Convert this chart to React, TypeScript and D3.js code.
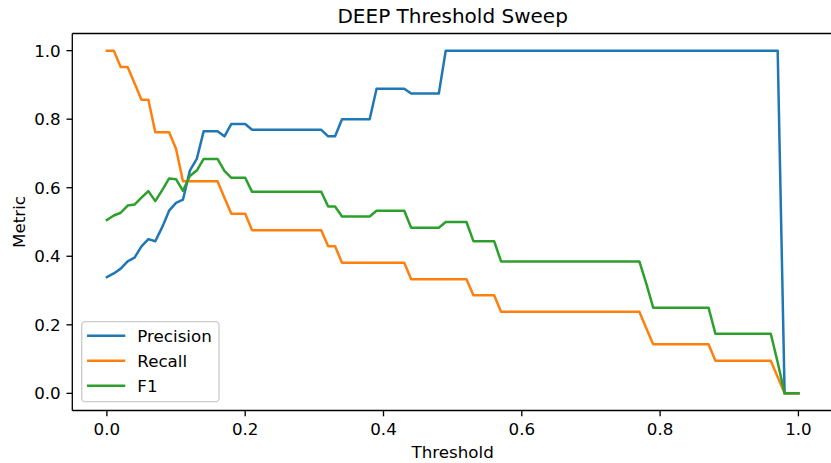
import React from "react";
import * as d3 from "d3";

// Decision thresholds swept from 0 to 1
const thresholds = [
  0.0, 0.01, 0.02, 0.03, 0.04, 0.05, 0.06, 0.07, 0.08, 0.09,
  0.1, 0.11, 0.12, 0.13, 0.14, 0.15, 0.16, 0.17, 0.18, 0.19,
  0.2, 0.21, 0.22, 0.23, 0.24, 0.25, 0.26, 0.27, 0.28, 0.29,
  0.3, 0.31, 0.32, 0.33, 0.34, 0.35, 0.36, 0.37, 0.38, 0.39,
  0.4, 0.41, 0.42, 0.43, 0.44, 0.45, 0.46, 0.47, 0.48, 0.49,
  0.5, 0.51, 0.52, 0.53, 0.54, 0.55, 0.56, 0.57, 0.58, 0.59,
  0.6, 0.61, 0.62, 0.63, 0.64, 0.65, 0.66, 0.67, 0.68, 0.69,
  0.7, 0.71, 0.72, 0.73, 0.74, 0.75, 0.76, 0.77, 0.78, 0.79,
  0.8, 0.81, 0.82, 0.83, 0.84, 0.85, 0.86, 0.87, 0.88, 0.89,
  0.9, 0.91, 0.92, 0.93, 0.94, 0.95, 0.96, 0.97, 0.98, 0.99,
  1.0,
];

const precision = [
  0.339, 0.35, 0.364, 0.385, 0.396, 0.429, 0.45, 0.444, 0.485, 0.533,
  0.556, 0.565, 0.65, 0.684, 0.765, 0.765, 0.765, 0.75, 0.786, 0.786,
  0.786, 0.769, 0.769, 0.769, 0.769, 0.769, 0.769, 0.769, 0.769, 0.769,
  0.769, 0.769, 0.75, 0.75, 0.8, 0.8, 0.8, 0.8, 0.8, 0.889,
  0.889, 0.889, 0.889, 0.889, 0.875, 0.875, 0.875, 0.875, 0.875, 1.0,
  1.0, 1.0, 1.0, 1.0, 1.0, 1.0, 1.0, 1.0, 1.0, 1.0,
  1.0, 1.0, 1.0, 1.0, 1.0, 1.0, 1.0, 1.0, 1.0, 1.0,
  1.0, 1.0, 1.0, 1.0, 1.0, 1.0, 1.0, 1.0, 1.0, 1.0,
  1.0, 1.0, 1.0, 1.0, 1.0, 1.0, 1.0, 1.0, 1.0, 1.0,
  1.0, 1.0, 1.0, 1.0, 1.0, 1.0, 1.0, 1.0, 0.0, 0.0,
  0.0,
];

const recall = [
  1.0, 1.0, 0.952, 0.952, 0.905, 0.857, 0.857, 0.762, 0.762, 0.762,
  0.714, 0.619, 0.619, 0.619, 0.619, 0.619, 0.619, 0.571, 0.524, 0.524,
  0.524, 0.476, 0.476, 0.476, 0.476, 0.476, 0.476, 0.476, 0.476, 0.476,
  0.476, 0.476, 0.429, 0.429, 0.381, 0.381, 0.381, 0.381, 0.381, 0.381,
  0.381, 0.381, 0.381, 0.381, 0.333, 0.333, 0.333, 0.333, 0.333, 0.333,
  0.333, 0.333, 0.333, 0.286, 0.286, 0.286, 0.286, 0.238, 0.238, 0.238,
  0.238, 0.238, 0.238, 0.238, 0.238, 0.238, 0.238, 0.238, 0.238, 0.238,
  0.238, 0.238, 0.238, 0.238, 0.238, 0.238, 0.238, 0.238, 0.19, 0.143,
  0.143, 0.143, 0.143, 0.143, 0.143, 0.143, 0.143, 0.143, 0.095, 0.095,
  0.095, 0.095, 0.095, 0.095, 0.095, 0.095, 0.095, 0.048, 0.0, 0.0,
  0.0,
];

const f1 = [
  0.506, 0.519, 0.527, 0.548, 0.551, 0.571, 0.59, 0.561, 0.593, 0.627,
  0.625, 0.591, 0.634, 0.65, 0.684, 0.684, 0.684, 0.649, 0.629, 0.629,
  0.629, 0.588, 0.588, 0.588, 0.588, 0.588, 0.588, 0.588, 0.588, 0.588,
  0.588, 0.588, 0.545, 0.545, 0.516, 0.516, 0.516, 0.516, 0.516, 0.533,
  0.533, 0.533, 0.533, 0.533, 0.483, 0.483, 0.483, 0.483, 0.483, 0.5,
  0.5, 0.5, 0.5, 0.444, 0.444, 0.444, 0.444, 0.385, 0.385, 0.385,
  0.385, 0.385, 0.385, 0.385, 0.385, 0.385, 0.385, 0.385, 0.385, 0.385,
  0.385, 0.385, 0.385, 0.385, 0.385, 0.385, 0.385, 0.385, 0.32, 0.25,
  0.25, 0.25, 0.25, 0.25, 0.25, 0.25, 0.25, 0.25, 0.174, 0.174,
  0.174, 0.174, 0.174, 0.174, 0.174, 0.174, 0.174, 0.091, 0.0, 0.0,
  0.0,
];

const seriesNames = ["Precision", "Recall", "F1"];
const seriesColors = ["#1f77b4", "#ff7f0e", "#2ca02c"];
const xTicks = [0, 0.2, 0.4, 0.6, 0.8, 1.0];
const yTicks = [0, 0.2, 0.4, 0.6, 0.8, 1.0];

const W = 831;
const H = 463;
const left = 72.3;
const right = 833;
const top = 33.5;
const bottom = 410.5;
const FONT = "'DejaVu Sans', sans-serif";
const fs = 16.7;

export default function App() {
  const x = d3.scaleLinear().domain([-0.05, 1.05]).range([left, right]);
  const y = d3.scaleLinear().domain([-0.05, 1.05]).range([bottom, top]);
  const allSeries = [precision, recall, f1];
  const line = d3
    .line<number>()
    .x((_, i) => x(thresholds[i]))
    .y((d) => y(d));

  const tickLen = 5.8;
  const legX = 81.7;
  const legY = 321.7;

  return (
    <svg
      width={W}
      height={H}
      style={{ position: "absolute", left: 0, top: 0, background: "#fff" }}
      fontFamily={FONT}
    >
      <rect x={0} y={0} width={W} height={H} fill="#fff" />
      {allSeries.map((s, k) => (
        <path
          key={seriesNames[k]}
          d={line(s) || ""}
          fill="none"
          stroke={seriesColors[k]}
          strokeWidth={2.5}
          strokeLinejoin="round"
          strokeLinecap="square"
        />
      ))}
      {/* spines */}
      <g stroke="#000" strokeWidth={1.33} fill="none">
        <line x1={left} y1={top} x2={left} y2={bottom} />
        <line x1={left} y1={bottom} x2={right} y2={bottom} />
        <line x1={left} y1={top} x2={right} y2={top} />
        <line x1={right} y1={top} x2={right} y2={bottom} />
      </g>
      {/* x axis ticks */}
      {xTicks.map((t) => (
        <g key={"x" + t}>
          <line x1={x(t)} x2={x(t)} y1={bottom} y2={bottom + tickLen} stroke="#000" strokeWidth={1.33} />
          <text x={x(t)} y={435} textAnchor="middle" fontSize={fs} fill="#000">
            {t.toFixed(1)}
          </text>
        </g>
      ))}
      {/* y axis ticks */}
      {yTicks.map((t) => (
        <g key={"y" + t}>
          <line x1={left - tickLen} x2={left} y1={y(t)} y2={y(t)} stroke="#000" strokeWidth={1.33} />
          <text x={60.7} y={y(t)} dy="0.36em" textAnchor="end" fontSize={fs} fill="#000">
            {t.toFixed(1)}
          </text>
        </g>
      ))}
      <text x={(left + right) / 2} y={23} textAnchor="middle" fontSize={20} fill="#000">
        DEEP Threshold Sweep
      </text>
      <text x={(left + right) / 2} y={458} textAnchor="middle" fontSize={fs} fill="#000">
        Threshold
      </text>
      <text
        transform={`translate(25,${(top + bottom) / 2}) rotate(-90)`}
        textAnchor="middle"
        fontSize={fs}
        fill="#000"
      >
        Metric
      </text>
      {/* legend */}
      <rect
        x={legX}
        y={legY}
        width={137.3}
        height={80}
        rx={3.5}
        fill="#fff"
        fillOpacity={0.8}
        stroke="#cccccc"
        strokeWidth={1.33}
      />
      {seriesNames.map((n, k) => {
        const ly = 335.7 + k * 25;
        return (
          <g key={"leg" + n}>
            <line x1={88.3} x2={124} y1={ly} y2={ly} stroke={seriesColors[k]} strokeWidth={2.5} strokeLinecap="square" />
            <text x={137.3} y={ly} dy="0.36em" fontSize={fs} fill="#000">
              {n}
            </text>
          </g>
        );
      })}
    </svg>
  );
}
